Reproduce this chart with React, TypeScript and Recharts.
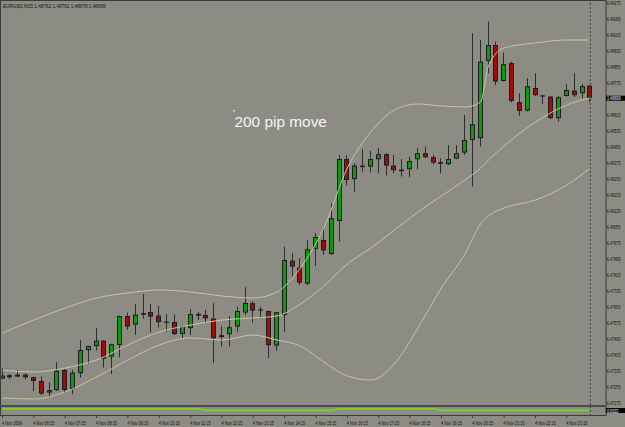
import React from 'react';
import { ComposedChart, LineChart, Bar, Line, XAxis, YAxis, ReferenceLine } from 'recharts';

// EURUSD M15, 4 Nov 2009 - bars from 05:15 onwards
const opens = [
  1.47297, 1.47314, 1.47307, 1.47317, 1.47304, 1.47285, 1.47227, 1.47239, 1.4734, 1.47244,
  1.47324, 1.47439, 1.47459, 1.47487, 1.47407, 1.47465, 1.4761, 1.47567, 1.47617, 1.4763,
  1.47612, 1.47579, 1.4758, 1.4752, 1.47549, 1.4762, 1.47615, 1.47597, 1.47505, 1.47519,
  1.47557, 1.47627, 1.47674, 1.4764, 1.47635, 1.47462, 1.47615, 1.47887, 1.47852, 1.47772,
  1.47945, 1.4799, 1.4792, 1.48085, 1.48395, 1.48294, 1.48362, 1.48357, 1.48394, 1.48419,
  1.48362, 1.48337, 1.48344, 1.48394, 1.48424, 1.48404, 1.48379, 1.48369, 1.48397, 1.48427,
  1.4849, 1.48499, 1.48885, 1.48965, 1.48785, 1.48874, 1.48679, 1.48637, 1.4875, 1.4871,
  1.48707, 1.48599, 1.4871, 1.48737, 1.48724, 1.48762,
];
const highs = [
  1.47349, 1.4732, 1.4734, 1.47324, 1.47307, 1.47307, 1.47279, 1.47379, 1.47344, 1.4734,
  1.4749, 1.47462, 1.47549, 1.47489, 1.47471, 1.47612, 1.47627, 1.4767, 1.4772, 1.4767,
  1.4766, 1.47619, 1.47619, 1.47562, 1.47645, 1.4763, 1.4764, 1.47674, 1.4756, 1.4761,
  1.47657, 1.47754, 1.47685, 1.47657, 1.47637, 1.4763, 1.47957, 1.47924, 1.47899, 1.4799,
  1.48025, 1.48044, 1.48174, 1.48415, 1.48415, 1.48374, 1.48445, 1.48435, 1.48449, 1.48424,
  1.48415, 1.48395, 1.48407, 1.48449, 1.48457, 1.48415, 1.48399, 1.48465, 1.48465, 1.48615,
  1.49024, 1.4899, 1.49082, 1.48982, 1.48927, 1.48882, 1.48724, 1.48799, 1.48824, 1.48715,
  1.4871, 1.4871, 1.4877, 1.48824, 1.4877, 1.48762,
];
const lows = [
  1.47294, 1.47294, 1.47304, 1.47294, 1.47235, 1.47215, 1.47207, 1.47237, 1.47224, 1.47219,
  1.47302, 1.4737, 1.47437, 1.47352, 1.4732, 1.47404, 1.4754, 1.47515, 1.47597, 1.47529,
  1.47552, 1.47532, 1.47515, 1.47499, 1.47515, 1.4759, 1.47574, 1.47374, 1.47457, 1.47457,
  1.47532, 1.47615, 1.47577, 1.47599, 1.47399, 1.47437, 1.47532, 1.47807, 1.47765, 1.47765,
  1.4786, 1.47915, 1.47915, 1.47982, 1.48262, 1.48232, 1.48332, 1.48327, 1.48324, 1.48312,
  1.48324, 1.48307, 1.48304, 1.48344, 1.48399, 1.48369, 1.48324, 1.48365, 1.48394, 1.48415,
  1.48257, 1.48457, 1.48824, 1.48765, 1.48782, 1.48677, 1.48612, 1.48632, 1.4871, 1.48669,
  1.48594, 1.48582, 1.48707, 1.48704, 1.48699, 1.48678,
];
const closes = [
  1.47312, 1.47304, 1.47317, 1.47304, 1.47285, 1.47222, 1.47239, 1.47337, 1.4724, 1.47327,
  1.4744, 1.4746, 1.47487, 1.47397, 1.47469, 1.4761, 1.47557, 1.47617, 1.47624, 1.47607,
  1.47579, 1.47579, 1.4752, 1.4756, 1.47619, 1.47612, 1.47599, 1.47499, 1.47514, 1.47554,
  1.47635, 1.47675, 1.47637, 1.4764, 1.47464, 1.47629, 1.4789, 1.47857, 1.47777, 1.47944,
  1.48005, 1.47938, 1.48099, 1.48395, 1.4829, 1.48362, 1.48355, 1.48395, 1.48419, 1.48362,
  1.48339, 1.48342, 1.48385, 1.48424, 1.48404, 1.48377, 1.48374, 1.48395, 1.48424, 1.4849,
  1.48569, 1.48882, 1.48965, 1.48782, 1.48869, 1.48685, 1.48635, 1.48759, 1.48714, 1.4871,
  1.48599, 1.48704, 1.4874, 1.48714, 1.48759, 1.48699,
];

const bandBars = [0, 4, 8, 12, 16, 20, 24, 28, 32, 35, 38, 41, 44, 47, 50, 53, 56, 59, 61, 62, 64, 68, 72, 75];
const upperBand = [
  1.47525, 1.4759, 1.4765, 1.477, 1.47725, 1.4774, 1.4773, 1.4771, 1.477, 1.4773, 1.4785, 1.4805,
  1.4835, 1.4853, 1.4864, 1.4867, 1.4866, 1.48655, 1.4868, 1.4886, 1.4895, 1.48975, 1.4899, 1.4899,
];
const middleBand = [
  1.4734, 1.4733, 1.4735, 1.4739, 1.47465, 1.4753, 1.47565, 1.4759, 1.476, 1.4761, 1.4767, 1.4776,
  1.4787, 1.4795, 1.4804, 1.4813, 1.4821, 1.4829, 1.4835, 1.4839, 1.4846, 1.4858, 1.48665, 1.487,
];
const lowerBand = [
  1.472, 1.47195, 1.4723, 1.47305, 1.4739, 1.47465, 1.475, 1.4749, 1.47515, 1.4749, 1.4746, 1.4738,
  1.4731, 1.4729, 1.4737, 1.4755, 1.4775, 1.4792, 1.4807, 1.4811, 1.4815, 1.4819, 1.48265, 1.4835,
];

// sub window indicator
const indBars = [0, 25, 26, 42, 43, 55, 56, 75];
const indValues = [0.0029, 0.0029, 0.0022, 0.0022, 0.0029, 0.0029, 0.0022, 0.0022];

const timeLabels = [
  '4 Nov 2009', '4 Nov 06:15', '4 Nov 07:15', '4 Nov 08:15', '4 Nov 09:15', '4 Nov 10:15', '4 Nov 11:15',
  '4 Nov 12:15', '4 Nov 13:15', '4 Nov 14:15', '4 Nov 15:15', '4 Nov 16:15', '4 Nov 17:15', '4 Nov 18:15',
  '4 Nov 19:15', '4 Nov 20:15', '4 Nov 21:15', '4 Nov 22:15', '4 Nov 23:15',
];
const timeTickBars = timeLabels.map((_, k) => k * 4);

const priceTicks = [
  1.49175, 1.49095, 1.49015, 1.48935, 1.48855, 1.48775, 1.48615, 1.48535, 1.48455, 1.48375,
  1.48295, 1.48215, 1.48135, 1.48055, 1.47975, 1.47895, 1.47815, 1.47735, 1.47655, 1.47575,
  1.47495, 1.47415, 1.47335, 1.47255, 1.47175,
];
const lastPrice = 1.48699;
const indLast = 0.0022;

const rows = opens.map((o, i) => {
  const b = bandBars.indexOf(i);
  const k = indBars.indexOf(i);
  return {
    i, o, h: highs[i], l: lows[i], c: closes[i],
    range: [lows[i], highs[i]],
    ub: b >= 0 ? upperBand[b] : null,
    mb: b >= 0 ? middleBand[b] : null,
    lb: b >= 0 ? lowerBand[b] : null,
    ind: k >= 0 ? indValues[k] : null,
  };
});

const BG = '#8c8c85';
const BULL = '#0a9c0a';
const BEAR = '#a30a0a';
const OUTLINE = '#1c1c1c';
const WICK = '#2c2c2c';
const BAND = '#c9c69e';
const FRAME = '#3a3a3a';
const FONT = '"Liberation Sans", Arial, sans-serif';
const X_DOMAIN: [number, number] = [-0.319, 77.0];

// tiny squeezed label, like the terminal's small axis font
const TinyText = ({ x, y, size, sx, fill, children }: any) => (
  <text transform={`translate(${x},${y}) scale(${sx},1)`} fontSize={size} fontFamily={FONT} fill={fill}>
    {children}
  </text>
);

const Candle = (props: any) => {
  const { x, y, width, height, payload } = props;
  if (!payload) return null;
  const { o, h, l, c } = payload;
  const top = Math.min(y, y + height);
  const span = Math.abs(height);
  const k = h - l > 0 ? span / (h - l) : 0;
  const py = (v: number) => top + (h - v) * k;
  const cx = Math.round(x + width / 2 - 0.5) + 0.5;
  const bTop = py(Math.max(o, c));
  const bBot = py(Math.min(o, c));
  const flat = Math.abs(c - o) < 1e-7;
  return (
    <g>
      <line x1={cx} x2={cx} y1={top} y2={top + span} stroke={WICK} strokeWidth={1} />
      {flat ? (
        <line x1={cx - 2.5} x2={cx + 2.5} y1={bTop} y2={bTop} stroke="#111" strokeWidth={1} />
      ) : (
        <rect
          x={cx - 2}
          y={bTop + 0.5}
          width={4}
          height={Math.max(bBot - bTop - 1, 0.5)}
          fill={c > o ? BULL : BEAR}
          stroke={OUTLINE}
          strokeWidth={1}
        />
      )}
    </g>
  );
};

const PriceTick = (props: any) => {
  const { x, y, payload } = props;
  const v = payload.value;
  const isLast = Math.abs(v - lastPrice) < 1e-7;
  return (
    <g>
      {isLast && <rect x={x - 3} y={y - 2.5} width={20} height={5} fill="#000" />}
      <TinyText x={x - 2} y={y + 2} size={5.5} sx={0.68} fill={isLast ? '#fff' : '#111'}>
        {v.toFixed(5)}
      </TinyText>
    </g>
  );
};

const IndTick = (props: any) => {
  const { x, y, payload } = props;
  return (
    <g>
      <rect x={x - 3} y={y - 2.5} width={20} height={5} fill="#000" />
      <TinyText x={x - 2} y={y + 2} size={5.5} sx={0.68} fill="#fff">
        {payload.value.toFixed(4)}
      </TinyText>
    </g>
  );
};

const TimeTick = (props: any) => {
  const { x, y, payload } = props;
  const label = timeLabels[timeTickBars.indexOf(payload.value)];
  return (
    <g>
      <line x1={x} x2={x} y1={y} y2={y + 2} stroke={FRAME} />
      <TinyText x={x - 0.5} y={y + 8.5} size={5} sx={0.78} fill="#111">
        {label}
      </TinyText>
    </g>
  );
};

export default function App() {
  return (
    <div style={{ position: 'relative', width: 625, height: 427, background: BG, overflow: 'hidden', fontFamily: FONT }}>
      <style>{'body{margin:0}'}</style>
      <div style={{ position: 'absolute', left: 0, top: 0 }}>
        <ComposedChart width={625} height={405} data={rows} margin={{ top: 0, right: 0, bottom: 0, left: 0 }}>
          <XAxis type="number" dataKey="i" domain={X_DOMAIN} allowDataOverflow hide />
          <YAxis
            orientation="right"
            width={19}
            domain={[1.47165, 1.4919]}
            allowDataOverflow
            ticks={[...priceTicks, lastPrice]}
            interval={0}
            tick={<PriceTick />}
            tickSize={2}
            tickMargin={1}
            tickLine={{ stroke: FRAME }}
            axisLine={{ stroke: FRAME }}
          />
          <Line dataKey="ub" stroke={BAND} strokeWidth={1} dot={false} connectNulls type="monotone" isAnimationActive={false} />
          <Line dataKey="mb" stroke={BAND} strokeWidth={1} dot={false} connectNulls type="monotone" isAnimationActive={false} />
          <Line dataKey="lb" stroke={BAND} strokeWidth={1} dot={false} connectNulls type="monotone" isAnimationActive={false} />
          <Bar dataKey="range" barSize={5} shape={<Candle />} isAnimationActive={false} />
          <ReferenceLine x={75} stroke={FRAME} strokeDasharray="2 2" />
        </ComposedChart>
      </div>
      <div style={{ position: 'absolute', left: 0, top: 405 }}>
        <LineChart width={625} height={22} data={rows} margin={{ top: 0, right: 0, bottom: 0, left: 0 }}>
          <XAxis
            type="number"
            dataKey="i"
            domain={X_DOMAIN}
            allowDataOverflow
            ticks={timeTickBars}
            interval={0}
            height={11}
            tick={<TimeTick />}
            tickLine={false}
            tickSize={0}
            tickMargin={0}
            axisLine={false}
          />
          <YAxis
            orientation="right"
            width={19}
            domain={[0, 0.0044]}
            allowDataOverflow
            ticks={[indLast]}
            interval={0}
            tick={<IndTick />}
            tickSize={2}
            tickMargin={1}
            tickLine={false}
            axisLine={{ stroke: FRAME }}
          />
          <Line dataKey="ind" stroke="#6fe000" strokeWidth={1.5} dot={false} connectNulls type="linear" isAnimationActive={false} />
          <ReferenceLine x={75} stroke={FRAME} strokeDasharray="2 2" />
        </LineChart>
      </div>
      {/* window frames */}
      <div style={{ position: 'absolute', left: 0, top: 0, width: 606, height: 1, background: FRAME }} />
      <div style={{ position: 'absolute', left: 0, top: 0, width: 1, height: 416, background: FRAME }} />
      <div style={{ position: 'absolute', left: 0, top: 405, width: 606, height: 2, background: '#4a4a4a' }} />
      <div style={{ position: 'absolute', left: 0, top: 415, width: 606, height: 1, background: FRAME }} />
      <svg width={625} height={427} style={{ position: 'absolute', left: 0, top: 0, pointerEvents: 'none' }}>
        <TinyText x={3} y={8} size={5.5} sx={0.85} fill="#111">
          EURUSD,M15 1.48762 1.48762 1.48678 1.48699
        </TinyText>
        <rect x={233} y={110} width={1.5} height={1.5} fill="#f4f4f4" />
        <text x={234.5} y={126.5} fontSize={15.4} fontFamily={FONT} fill="#f4f4f4">
          200 pip move
        </text>
      </svg>
    </div>
  );
}
